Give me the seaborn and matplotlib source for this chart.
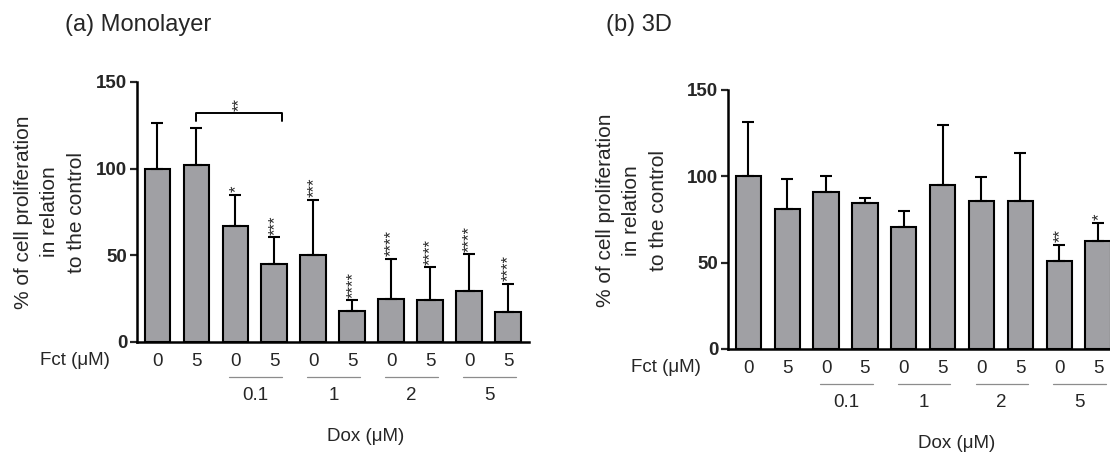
import numpy as np
import pandas as pd
import matplotlib
matplotlib.use("Agg")
import matplotlib.pyplot as plt
import seaborn as sns

# Fucoxanthin (Fct) / doxorubicin (Dox) treatment conditions
fct_levels = ["0", "5", "0", "5", "0", "5", "0", "5", "0", "5"]
dox_groups = ["0.1", "1", "2", "5"]

# Monolayer culture: mean % proliferation, SD, significance
mono_mean = [100, 102, 67, 45, 50, 18, 24.6, 24.1, 29.3, 17.5]
mono_sd = [26.5, 21.5, 18, 15.5, 32, 6, 23.3, 19, 21.3, 16]
mono_sig = ["", "", "*", "***", "***", "****", "****", "****", "****", "****"]

# 3D culture
sph_mean = [100, 81, 91, 84.5, 70.6, 95, 85.6, 86, 51, 62.3]
sph_sd = [31.5, 17.5, 9, 3, 9.6, 35, 14, 27.3, 9.5, 10.7]
sph_sig = ["", "", "", "", "", "", "", "", "**", "*"]

# Pairwise comparison bracket in the monolayer panel
bracket_pair = (1, 3)
bracket_sig = "**"

sns.set_theme(style="ticks")
plt.rcParams["font.family"] = ["Liberation Sans", "DejaVu Sans"]

BAR = "#a0a0a4"
fig = plt.figure(figsize=(11.1, 4.58), dpi=100)
ax1 = fig.add_axes([0.1234, 0.2533, 0.3532, 0.5677])
ax2 = fig.add_axes([0.6559, 0.2380, 0.3523, 0.5655])


def draw_panel(ax, means, sds, sigs):
    cond = [f"c{i}" for i in range(len(means))]
    df = pd.DataFrame({"cond": cond, "value": means})
    sns.barplot(data=df, x="cond", y="value", order=cond, color=BAR,
                saturation=1, edgecolor="black", linewidth=1.5, width=0.65,
                errorbar=None, ax=ax)
    pos = np.arange(len(means))
    ax.errorbar(pos, means, yerr=[np.zeros(len(sds)), sds], fmt="none",
                ecolor="black", elinewidth=1.5, capsize=4.5, capthick=1.5,
                zorder=1)
    for p, m, s, sig in zip(pos, means, sds, sigs):
        if sig:
            ax.text(p + 0.02, m + s + 1.5, sig, rotation=90, ha="center",
                    va="bottom", fontsize=12)
    ax.set_xlim(-0.52, len(means) - 0.46)
    ax.set_ylim(0, 150)
    ax.set_yticks([0, 50, 100, 150])
    ax.set_xticks(pos)
    ax.set_xticklabels(fct_levels, fontsize=13.5)
    ax.tick_params(axis="x", length=0, pad=8)
    ax.tick_params(axis="y", length=5, width=1.6, labelsize=13.5, pad=2)
    for lab in ax.get_yticklabels():
        lab.set_fontweight("bold")
    ax.set_xlabel("")
    ax.set_ylabel("")
    sns.despine(ax=ax)
    for sp in ("left", "bottom"):
        ax.spines[sp].set_linewidth(1.8)
        ax.spines[sp].set_color("black")
    tr = ax.get_xaxis_transform()
    for g, name in enumerate(dox_groups):
        a, b = 2 + 2 * g, 3 + 2 * g
        ax.plot([a - 0.15, b + 0.2], [-0.135, -0.135], transform=tr,
                color="#8c8c8c", lw=0.9, clip_on=False)
        ax.text((a + b) / 2 + 0.02, -0.205, name, transform=tr, ha="center",
                va="center", fontsize=13.5)
    ax.text(-0.07, -0.07, "Fct (\u03bcM)", transform=ax.transAxes, ha="right",
            va="center", fontsize=13.5)
    ax.text(0.584, -0.364, "Dox (\u03bcM)", transform=ax.transAxes,
            ha="center", va="center", fontsize=13.5)


draw_panel(ax1, mono_mean, mono_sd, mono_sig)
draw_panel(ax2, sph_mean, sph_sd, sph_sig)

# Bracket between Fct 5 alone and Fct 5 + Dox 0.1
x0, x1 = bracket_pair[0], bracket_pair[1] + 0.2
ax1.plot([x0, x0, x1, x1], [127.5, 132.3, 132.3, 127.5], color="black",
         lw=1.4, clip_on=False)
ax1.text((x0 + x1) / 2, 133.5, bracket_sig, rotation=90, ha="center",
         va="bottom", fontsize=12)

ylab = "% of cell proliferation\nin relation\nto the control"
fig.text(0.045, 0.537, ylab, rotation=90, ha="center", va="center",
         fontsize=15, linespacing=1.5)
fig.text(0.569, 0.541, ylab, rotation=90, ha="center", va="center",
         fontsize=15, linespacing=1.5)

fig.text(0.0586, 0.945, "(a) Monolayer", ha="left", va="center", fontsize=17)
fig.text(0.546, 0.945, "(b) 3D", ha="left", va="center", fontsize=17)

fig.savefig("out.png", dpi=100, facecolor="white")
